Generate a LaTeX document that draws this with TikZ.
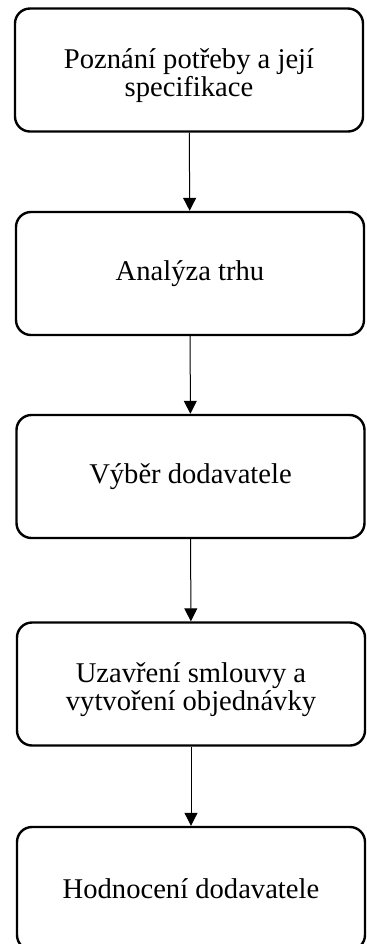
\documentclass[tikz,border=0pt]{standalone}
\usepackage{fontspec}
\setmainfont{Liberation Serif}
\usetikzlibrary{arrows.meta}

\tikzset{
  stepbox/.style={shape=rectangle,rounded corners=7.5pt,draw=black,line width=1.2pt,
    minimum width=174pt,minimum height=61.5pt,align=center,
    font=\fontsize{14.3}{14}\selectfont},
  twoline/.style={text height=30pt},
  flow/.style={line width=0.5pt,-{Triangle[width=6.5pt,length=6.5pt]}}
}

\begin{document}
\begin{tikzpicture}[x=0.5pt,y=-0.5pt]
  \useasboundingbox (0,0) rectangle (366,944);
  \clip (0,0) rectangle (366,944);

  \node[stepbox,twoline] (need) at (189,70) {Poznání potřeby a její\\specifikace};
  \node[stepbox] (market) at (190,273.5) {Analýza trhu};
  \node[stepbox] (choice) at (190.5,476.5) {Výběr dodavatele};
  \node[stepbox,twoline] (order) at (191,684) {Uzavření smlouvy a\\vytvoření objednávky};
  \node[stepbox] (rating) at (191,888.5) {Hodnocení dodavatele};

  \draw[flow] (need) to (market);
  \draw[flow] (market) to (choice);
  \draw[flow] (choice) to (order);
  \draw[flow] (order) to (rating);
\end{tikzpicture}
\end{document}
